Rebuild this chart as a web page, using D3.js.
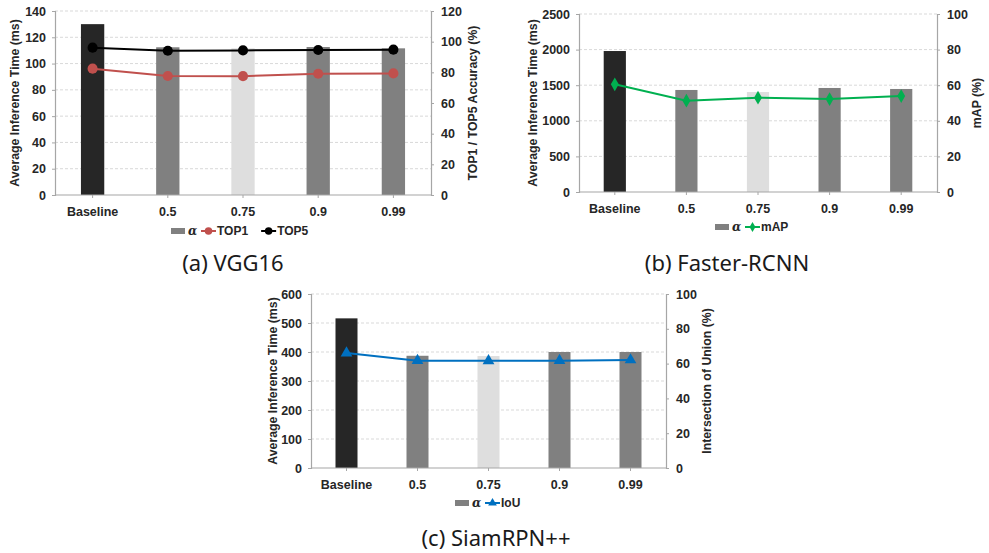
<!DOCTYPE html>
<html>
<head>
<meta charset="utf-8">
<script src="https://cdn.jsdelivr.net/npm/d3@7"></script>
<style>
  html, body { margin: 0; padding: 0; background: #fff; }
  svg { display: block; }
</style>
</head>
<body>
<svg id="chart" width="989" height="553"></svg>
<script>
// ---------- DATA ----------
const categories = ["Baseline", "0.5", "0.75", "0.9", "0.99"];

const vggTime = [130, 112.4, 111.6, 112.6, 111.6];
const vggTop1 = [82.4, 77.6, 77.5, 79.1, 79.3];
const vggTop5 = [96.1, 94.1, 94.3, 94.6, 94.8];
const vggLeftTicks = [0, 20, 40, 60, 80, 100, 120, 140];
const vggRightTicks = [0, 20, 40, 60, 80, 100, 120];

const frcnnTime = [1980, 1433, 1404, 1461, 1447];
const frcnnMap = [60.5, 51.3, 53.0, 52.2, 53.9];
const frcnnLeftTicks = [0, 500, 1000, 1500, 2000, 2500];
const frcnnRightTicks = [0, 20, 40, 60, 80, 100];

const siamTime = [516, 387, 386, 400, 400];
const siamIoU = [66.1, 61.7, 61.6, 61.7, 62.1];
const siamLeftTicks = [0, 100, 200, 300, 400, 500, 600];
const siamRightTicks = [0, 20, 40, 60, 80, 100];

// ---------- STYLE ----------
const barColors = ["#262626", "#808080", "#dedede", "#808080", "#808080"];
const axisColor = "#a6a6a6";
const gridColor = "#d9d9d9";
const textColor = "#262626";
const FONT = "'Liberation Sans', Arial, sans-serif";
const svg = d3.select("#chart");

function drawPanel(p) {
  const g = svg.append("g");
  const x = d3.scaleBand().domain(categories).range([p.x0, p.x1]);
  const yL = d3.scaleLinear().domain([0, d3.max(p.leftTicks)]).range([p.yBot, p.yTop]);
  const yR = d3.scaleLinear().domain([0, d3.max(p.rightTicks)]).range([p.yBot, p.yTop]);
  const bw = x.bandwidth() * 0.31;

  // gridlines
  g.selectAll(".grid").data(p.leftTicks.filter(d => d > 0)).enter().append("line")
    .attr("x1", p.x0).attr("x2", p.x1)
    .attr("y1", d => yL(d)).attr("y2", d => yL(d))
    .attr("stroke", gridColor).attr("stroke-width", 1).attr("stroke-dasharray", "3,2");

  // bars
  g.selectAll(".bar").data(p.time).enter().append("rect")
    .attr("x", (d, i) => x(categories[i]) + x.bandwidth() / 2 - bw / 2)
    .attr("width", bw)
    .attr("y", d => yL(d))
    .attr("height", d => p.yBot - yL(d))
    .attr("fill", (d, i) => barColors[i]);

  // axes
  const axL = d3.axisLeft(yL).tickValues(p.leftTicks).tickFormat(d3.format("d")).tickSize(3).tickPadding(6);
  const axR = d3.axisRight(yR).tickValues(p.rightTicks).tickFormat(d3.format("d")).tickSize(3).tickPadding(7);
  const axB = d3.axisBottom(x).tickSize(3).tickPadding(9);
  const gl = g.append("g").attr("transform", `translate(${p.x0},0)`).call(axL);
  const gr = g.append("g").attr("transform", `translate(${p.x1},0)`).call(axR);
  const gb = g.append("g").attr("transform", `translate(0,${p.yBot})`).call(axB);
  [gl, gr, gb].forEach(a => {
    a.select(".domain").attr("stroke", axisColor).attr("stroke-width", 1.2);
    a.selectAll(".tick line").attr("stroke", axisColor);
    a.selectAll("text").attr("fill", textColor).style("font-family", FONT)
      .style("font-weight", "bold").style("font-size", "12.5px");
  });
  gb.select(".domain").attr("d", `M${p.x0},0H${p.x1}`);

  // lines
  p.lines.forEach(ln => {
    const line = d3.line().x((d, i) => x(categories[i]) + x.bandwidth() / 2).y(d => yR(d));
    g.append("path").datum(ln.values).attr("d", line)
      .attr("fill", "none").attr("stroke", ln.color).attr("stroke-width", 2);
    const sym = d3.symbol().type(ln.symbol).size(ln.size);
    g.selectAll(null).data(ln.values).enter().append("path")
      .attr("d", sym)
      .attr("transform", (d, i) => `translate(${x(categories[i]) + x.bandwidth() / 2},${yR(d)})`)
      .attr("fill", ln.color);
  });

  // axis titles
  const midY = (p.yTop + p.yBot) / 2;
  g.append("text").text("Average Inference Time (ms)")
    .attr("transform", `translate(${p.leftTitleX},${midY}) rotate(-90)`)
    .attr("text-anchor", "middle").attr("dominant-baseline", "central")
    .attr("fill", textColor).style("font-family", FONT).style("font-weight", "bold").style("font-size", "12.3px");
  g.append("text").text(p.rightTitle)
    .attr("transform", `translate(${p.rightTitleX},${midY}) rotate(-90)`)
    .attr("text-anchor", "middle").attr("dominant-baseline", "central")
    .attr("fill", textColor).style("font-family", FONT).style("font-weight", "bold").style("font-size", "12.3px");

  // legend
  const ly = p.legendY;
  const lg = g.append("g");
  lg.append("rect").attr("x", p.legendX).attr("y", ly - 3).attr("width", 14).attr("height", 6).attr("fill", "#808080");
  lg.append("text").text("α").attr("x", p.legendX + 17).attr("y", ly).attr("dominant-baseline", "central")
    .attr("fill", textColor).style("font-family", "'DejaVu Serif', serif").style("font-style", "italic")
    .style("font-weight", "bold").style("font-size", "12px");
  let lx = p.legendX + 30;
  p.lines.forEach(ln => {
    lg.append("line").attr("x1", lx).attr("x2", lx + 15).attr("y1", ly).attr("y2", ly)
      .attr("stroke", ln.color).attr("stroke-width", 2);
    lg.append("path").attr("d", d3.symbol().type(ln.symbol).size(ln.size * 0.55)())
      .attr("transform", `translate(${lx + 7.5},${ly})`).attr("fill", ln.color);
    const t = lg.append("text").text(ln.name).attr("x", lx + 16).attr("y", ly)
      .attr("dominant-baseline", "central").attr("fill", textColor)
      .style("font-family", FONT).style("font-weight", "bold").style("font-size", "12px");
    lx += 16 + t.node().getComputedTextLength() + 13;
  });

  // caption
  g.append("text").text(p.caption).attr("x", p.capX).attr("y", p.capY)
    .attr("text-anchor", "middle")
    .attr("fill", "#1a1a1a").style("font-family", "'Noto Sans', sans-serif").style("font-size", "22px");
}

drawPanel({
  x0: 55, x1: 431, yTop: 11, yBot: 195,
  leftTicks: vggLeftTicks, rightTicks: vggRightTicks, time: vggTime,
  lines: [
    { name: "TOP1", values: vggTop1, color: "#c0504d", symbol: d3.symbolCircle, size: 80 },
    { name: "TOP5", values: vggTop5, color: "#000000", symbol: d3.symbolCircle, size: 80 }
  ],
  leftTitleX: 15, rightTitleX: 473, rightTitle: "TOP1 / TOP5 Accuracy (%)",
  legendX: 171, legendY: 231, caption: "(a) VGG16", capX: 233, capY: 271
});

drawPanel({
  x0: 579, x1: 937, yTop: 14, yBot: 192,
  leftTicks: frcnnLeftTicks, rightTicks: frcnnRightTicks, time: frcnnTime,
  lines: [
    { name: "mAP", values: frcnnMap, color: "#00b050", symbol: d3.symbolDiamond, size: 55 }
  ],
  leftTitleX: 533, rightTitleX: 977, rightTitle: "mAP (%)",
  legendX: 715, legendY: 227, caption: "(b) Faster-RCNN", capX: 727, capY: 271
});

drawPanel({
  x0: 311, x1: 666, yTop: 294, yBot: 468,
  leftTicks: siamLeftTicks, rightTicks: siamRightTicks, time: siamTime,
  lines: [
    { name: "IoU", values: siamIoU, color: "#0070c0", symbol: d3.symbolTriangle, size: 60 }
  ],
  leftTitleX: 273, rightTitleX: 707, rightTitle: "Intersection of Union (%)",
  legendX: 455, legendY: 503, caption: "(c) SiamRPN++", capX: 496, capY: 546
});
</script>
</body>
</html>
